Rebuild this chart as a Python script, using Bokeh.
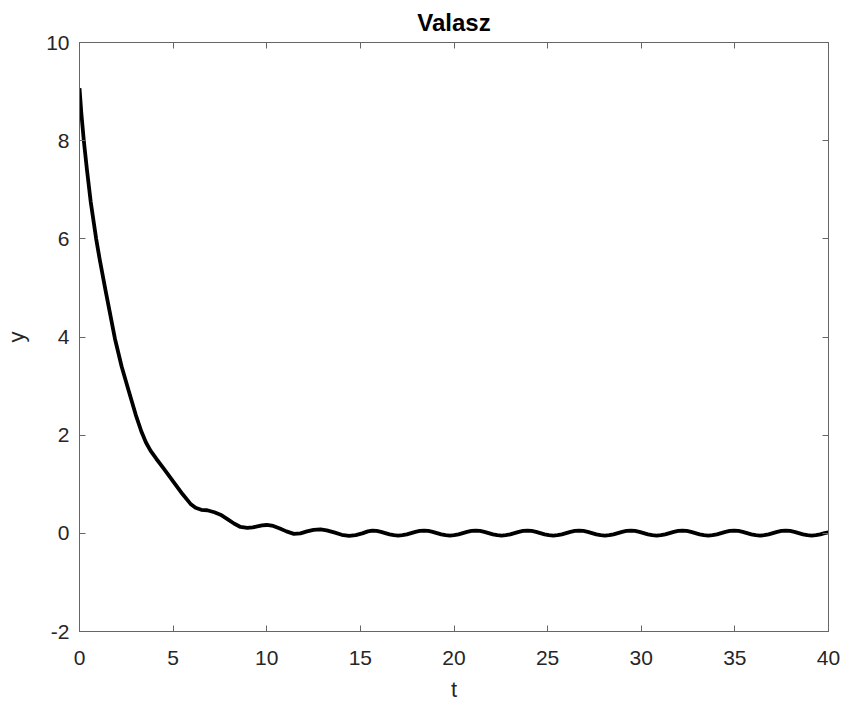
from bokeh.plotting import figure
from bokeh.models import LinearAxis, Range1d, FixedTicker, ColumnDataSource
from bokeh.embed import file_html
from bokeh.resources import INLINE

# Response curve
t_vals = [0.0, 0.1, 0.23, 0.4, 0.6, 0.89, 1.07, 1.39, 1.89, 2.25, 2.63, 3.0, 3.3, 3.55,
          3.8, 4.1, 4.5, 5.0, 5.5, 5.93, 6.2, 6.5, 6.82, 7.2, 7.53, 7.9, 8.25, 8.6,
          8.96, 9.25, 9.5, 9.75, 10.0, 10.35, 10.7, 11.05, 11.45, 11.8, 12.15, 12.5,
          12.87, 13.2, 13.6, 14.0, 14.4, 14.75, 15.1, 15.4,
          15.64, 15.87, 16.10, 16.33, 16.56, 16.79, 17.02, 17.25, 17.48, 17.71, 17.94, 18.17,
          18.40, 18.63, 18.86, 19.09, 19.32, 19.55, 19.78, 20.01, 20.24, 20.47, 20.70, 20.93,
          21.16, 21.39, 21.62, 21.85, 22.08, 22.31, 22.54, 22.77, 23.00, 23.23, 23.46, 23.69,
          23.92, 24.15, 24.38, 24.61, 24.84, 25.07, 25.30, 25.53, 25.76, 25.99, 26.22, 26.45,
          26.68, 26.91, 27.14, 27.37, 27.60, 27.83, 28.06, 28.29, 28.52, 28.75, 28.98, 29.21,
          29.44, 29.67, 29.90, 30.13, 30.36, 30.59, 30.82, 31.05, 31.28, 31.51, 31.74, 31.97,
          32.20, 32.43, 32.66, 32.89, 33.12, 33.35, 33.58, 33.81, 34.04, 34.27, 34.50, 34.73,
          34.96, 35.19, 35.42, 35.65, 35.88, 36.11, 36.34, 36.57, 36.80, 37.03, 37.26, 37.49,
          37.72, 37.95, 38.18, 38.41, 38.64, 38.87, 39.10, 39.33, 39.56, 39.79, 40.00]
y_vals = [9.07, 8.55, 8.0, 7.4, 6.75, 6.0, 5.6, 4.95, 3.97, 3.4, 2.9, 2.42, 2.08, 1.85,
          1.68, 1.52, 1.32, 1.06, 0.8, 0.6, 0.52, 0.48, 0.47, 0.43, 0.38, 0.29, 0.2, 0.13,
          0.11, 0.12, 0.14, 0.16, 0.17, 0.15, 0.1, 0.04, -0.01, 0.0, 0.04, 0.07,
          0.08, 0.06, 0.02, -0.03, -0.05, -0.035, 0.0, 0.04,
          0.055, 0.048, 0.03, 0.005, -0.02, -0.038, -0.045, -0.038, -0.02, 0.005, 0.03, 0.048,
          0.055, 0.048, 0.03, 0.005, -0.02, -0.038, -0.045, -0.038, -0.02, 0.005, 0.03, 0.048,
          0.055, 0.048, 0.03, 0.005, -0.02, -0.038, -0.045, -0.038, -0.02, 0.005, 0.03, 0.048,
          0.055, 0.048, 0.03, 0.005, -0.02, -0.038, -0.045, -0.038, -0.02, 0.005, 0.03, 0.048,
          0.055, 0.048, 0.03, 0.005, -0.02, -0.038, -0.045, -0.038, -0.02, 0.005, 0.03, 0.048,
          0.055, 0.048, 0.03, 0.005, -0.02, -0.038, -0.045, -0.038, -0.02, 0.005, 0.03, 0.048,
          0.055, 0.048, 0.03, 0.005, -0.02, -0.038, -0.045, -0.038, -0.02, 0.005, 0.03, 0.048,
          0.055, 0.048, 0.03, 0.005, -0.02, -0.038, -0.045, -0.038, -0.02, 0.005, 0.03, 0.048,
          0.055, 0.048, 0.03, 0.005, -0.02, -0.038, -0.045, -0.038, -0.02, 0.005, 0.02]

x_ticks = [0, 5, 10, 15, 20, 25, 30, 35, 40]
y_ticks = [-2, 0, 2, 4, 6, 8, 10]
y_tick_labels = {-2: "-2", 0: "0", 2: "2", 4: "4", 6: "6", 8: "8", 10: "10"}

FONT = "Liberation Sans"
AX = "#666666"
TXT = "#262626"

p = figure(width=845, height=709, output_backend="svg", toolbar_location=None,
           x_range=Range1d(0, 40), y_range=Range1d(-2, 10),
           min_border_left=79, min_border_right=17, min_border_top=41, min_border_bottom=78,
           title="Valasz")
p.title.align = "center"
p.title.text_font = FONT
p.title.text_font_size = "24px"
p.title.text_font_style = "bold"
p.title.text_color = "#000000"
p.title.standoff = 13
p.title.offset = 0

p.grid.visible = False
p.outline_line_color = AX
p.background_fill_color = "white"
p.border_fill_color = "white"

src = ColumnDataSource(dict(t=t_vals, y=y_vals))
p.line("t", "y", source=src, line_color="black", line_width=3.8, line_join="round")

bottom = p.below[0]
left = p.left[0]
bottom.ticker = FixedTicker(ticks=x_ticks)
bottom.axis_label = "t"
left.ticker = FixedTicker(ticks=y_ticks)
left.major_label_overrides = y_tick_labels
left.axis_label = "y"

top = LinearAxis(ticker=FixedTicker(ticks=x_ticks))
right = LinearAxis(ticker=FixedTicker(ticks=y_ticks))
p.add_layout(top, "above")
p.add_layout(right, "right")

for ax in [bottom, left, top, right]:
    ax.axis_line_color = AX
    ax.major_tick_line_color = AX
    ax.major_tick_in = 6
    ax.major_tick_out = 0
    ax.minor_tick_line_color = None
    ax.major_label_text_font = FONT
    ax.major_label_text_font_size = "21px"
    ax.major_label_text_color = TXT
    ax.axis_label_text_font = FONT
    ax.axis_label_text_font_size = "22px"
    ax.axis_label_text_font_style = "normal"
    ax.axis_label_text_color = TXT

for ax in [top, right]:
    ax.major_label_text_font_size = "0px"
    ax.major_label_text_alpha = 0
    ax.major_label_standoff = 0

bottom.major_label_standoff = 19
left.major_label_standoff = 10
bottom.axis_label_standoff = 9
left.axis_label_standoff = 14

open("out.html", "w").write(file_html(p, INLINE))
